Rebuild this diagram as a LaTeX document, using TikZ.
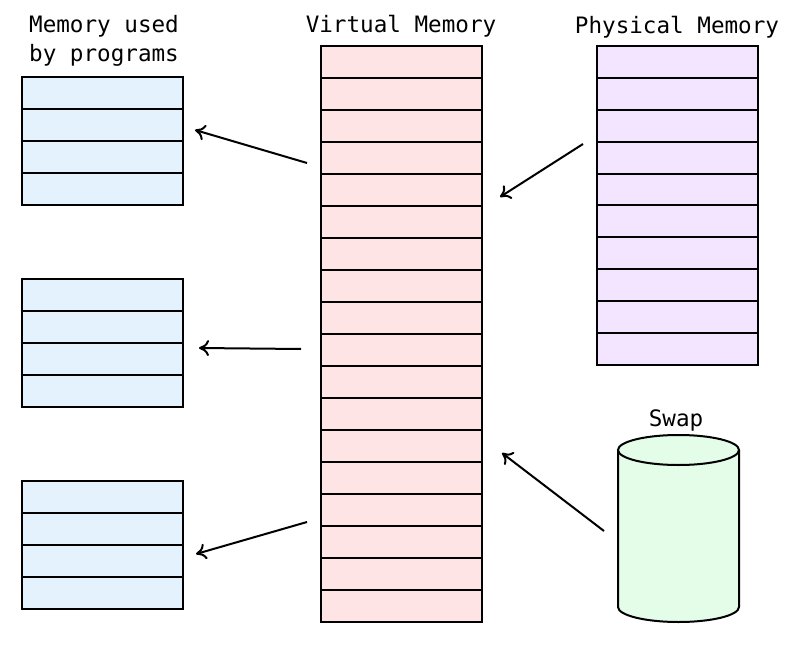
\documentclass[tikz,border=0pt]{standalone}
\usepackage{fontspec}
\setmonofont{DejaVu Sans Mono}
\usetikzlibrary{arrows.meta}
\definecolor{progblue}{HTML}{E3F2FD}
\definecolor{virtpink}{HTML}{FFE4E6}
\definecolor{physlilac}{HTML}{F3E5FF}
\definecolor{swapgreen}{HTML}{E3FDE9}

\begin{document}
\begin{tikzpicture}[x=0.5pt, y=-0.5pt, line width=1pt,
    lbl/.style={font=\ttfamily\fontsize{11.3}{14.5}\selectfont, align=center},
    memarrow/.style={-{To[length=5pt, width=8pt]}, line width=1pt}]
\useasboundingbox (0,0) rectangle (793,647);

% 1. titles
\node[lbl] (progtitle) at (104,41) {Memory used\\by programs};
\node[lbl] (virttitle) at (401,26) {Virtual Memory};
\node[lbl] (phystitle) at (677,27) {Physical Memory};
\node[lbl] (swaptitle) at (676,420) {Swap};

% 2. memory used by programs
\foreach \ytop in {77, 279, 481}
    {\draw[fill=progblue] (22,\ytop) rectangle (183,\ytop+128);
     \foreach \i in {1,2,3}
        {\draw (22,\ytop+32*\i) -- (183,\ytop+32*\i);}
    }

% 3. virtual memory
\draw[fill=virtpink] (321,46) rectangle (482,622);
\foreach \i in {1,...,17}
    {\draw (321,46+32*\i) -- (482,46+32*\i);}

% 4. physical memory
\draw[fill=physlilac] (597,46) rectangle (758,365);
\foreach \i in {1,...,9}
    {\draw (597,46+31.9*\i) -- (758,46+31.9*\i);}

% 5. swap
\fill[swapgreen] (618,450) rectangle (739,607);
\fill[swapgreen] (678.5,607) ellipse [x radius=60.5, y radius=15];
\draw (618,450) -- (618,607) arc[start angle=180, end angle=0, x radius=60.5, y radius=15] -- (739,450);
\draw[fill=swapgreen] (678.5,450) ellipse [x radius=60.5, y radius=15];

% 6. arrows
\coordinate (virtA) at (307,163);
\coordinate (progA) at (195,130);
\coordinate (virtB) at (301,349);
\coordinate (progB) at (199,348);
\coordinate (virtC) at (307,522);
\coordinate (progC) at (196,554);
\coordinate (physA) at (583,144);
\coordinate (virtD) at (500,197);
\coordinate (swapA) at (604,531);
\coordinate (virtE) at (502,453);
\draw[memarrow] (virtA) -- (progA);
\draw[memarrow] (virtB) -- (progB);
\draw[memarrow] (virtC) -- (progC);
\draw[memarrow] (physA) -- (virtD);
\draw[memarrow] (swapA) -- (virtE);
\end{tikzpicture}
\end{document}
